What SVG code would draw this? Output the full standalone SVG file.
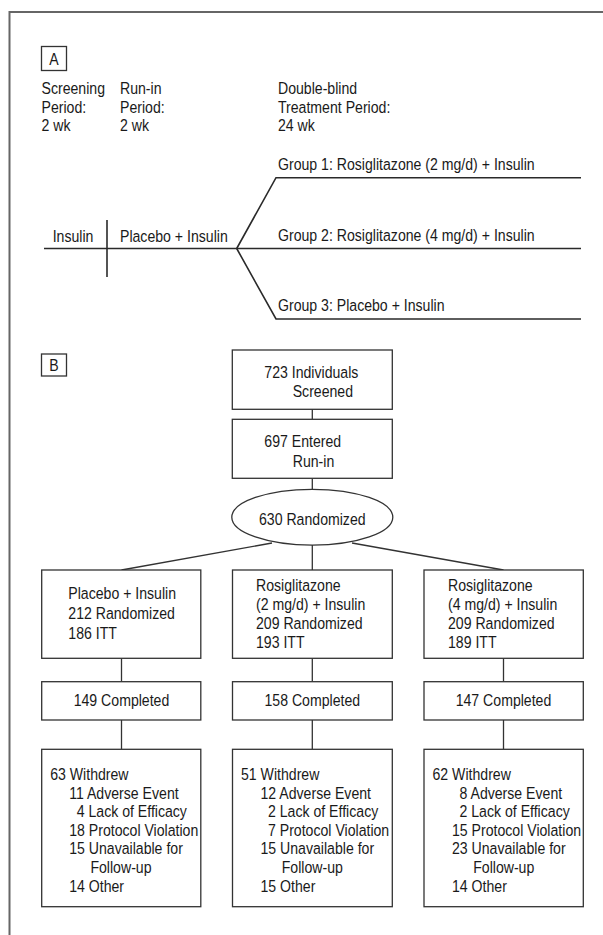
<svg xmlns="http://www.w3.org/2000/svg" width="603" height="935" viewBox="0 0 603 935">
<style>
text{font-family:"Liberation Sans Narrow","Liberation Sans",Arial,sans-serif;font-size:17px;fill:#1a1a1a;transform:scaleX(0.83);transform-box:fill-box;transform-origin:0 0}
text.c{text-anchor:middle;transform-origin:50% 0}
.box{fill:#fff;stroke:#333;stroke-width:1.3}
.ln{fill:none;stroke:#333;stroke-width:1.3}
.tl{fill:none;stroke:#2a2a2a;stroke-width:1.6}
.frame{fill:none;stroke:#666;stroke-width:2}
</style>
<rect x="0" y="0" width="603" height="935" fill="#fff"/>
<g id="frame"><path class="frame" d="M9.5 935 V12 H603"/></g>

<g id="panelA">
<g id="labelA"><rect class="box" x="41.5" y="46.5" width="25" height="24"/><text class="c" x="54" y="65">A</text></g>
<g id="screening"><text x="41.5" y="94.3">Screening</text><text x="41.5" y="112.8">Period:</text><text x="41.5" y="131.5">2 wk</text></g>
<g id="runin"><text x="120" y="94.3">Run-in</text><text x="120" y="112.8">Period:</text><text x="120" y="131.5">2 wk</text></g>
<g id="treatment"><text x="278" y="94.3">Double-blind</text><text x="278" y="112.8">Treatment Period:</text><text x="278" y="131.5">24 wk</text></g>
<g id="timeline">
<path class="tl" d="M44 248.5 H581"/>
<path class="tl" d="M107 220 V277"/>
<path class="tl" d="M236.7 248.5 L276 177.7 H581"/>
<path class="tl" d="M236.7 248.5 L276 319 H581"/>
</g>
<g id="phaseInsulin"><text x="52.7" y="241.7">Insulin</text></g>
<g id="phasePlacebo"><text x="120" y="241.7">Placebo + Insulin</text></g>
<g id="group1"><text x="278" y="170">Group 1: Rosiglitazone (2 mg/d) + Insulin</text></g>
<g id="group2"><text x="278" y="240.7">Group 2: Rosiglitazone (4 mg/d) + Insulin</text></g>
<g id="group3"><text x="278" y="311">Group 3: Placebo + Insulin</text></g>
</g>

<g id="connectors">
<path class="ln" d="M312.3 409 V419.5"/>
<path class="ln" d="M312.3 478.5 V495"/>
<path class="ln" d="M121.5 570 L272 543"/>
<path class="ln" d="M503.5 570 L352 543"/>
<path class="ln" d="M312.3 540 V570"/>
<path class="ln" d="M121.5 658.3 V681.7"/>
<path class="ln" d="M312.3 658.3 V681.7"/>
<path class="ln" d="M503.5 658.3 V681.7"/>
<path class="ln" d="M121.5 720 V749.3"/>
<path class="ln" d="M312.3 720 V749.3"/>
<path class="ln" d="M503.5 720 V749.3"/>
</g>

<g id="labelB"><rect class="box" x="41.5" y="354" width="25" height="22"/><text class="c" x="54" y="371">B</text></g>

<g id="screened"><rect class="box" x="232.3" y="350" width="160" height="59.3"/><text x="264.3" y="378.3">723 Individuals</text><text x="292.7" y="397.3">Screened</text></g>
<g id="runinBox"><rect class="box" x="232.3" y="419.3" width="160" height="59"/><text x="264.3" y="447.3">697 Entered</text><text x="292.7" y="466.7">Run-in</text></g>
<g id="randomized"><ellipse class="box" cx="312.3" cy="517.2" rx="80.5" ry="27.9"/><text class="c" x="312.3" y="525">630 Randomized</text></g>

<g id="arm1"><rect class="box" x="41.7" y="570" width="159.1" height="88.3"/><text x="68.3" y="599">Placebo + Insulin</text><text x="68.3" y="619.3">212 Randomized</text><text x="68.3" y="639.3">186 ITT</text></g>
<g id="arm2"><rect class="box" x="232.5" y="570" width="159.8" height="88.3"/><text x="256" y="591">Rosiglitazone</text><text x="256" y="610">(2 mg/d) + Insulin</text><text x="256" y="629">209 Randomized</text><text x="256" y="648">193 ITT</text></g>
<g id="arm3"><rect class="box" x="424" y="570" width="159.3" height="88.3"/><text x="448" y="591">Rosiglitazone</text><text x="448" y="610">(4 mg/d) + Insulin</text><text x="448" y="629">209 Randomized</text><text x="448" y="648">189 ITT</text></g>

<g id="completed1"><rect class="box" x="41.7" y="681.7" width="159.1" height="38.3"/><text class="c" x="121.5" y="706">149 Completed</text></g>
<g id="completed2"><rect class="box" x="232.5" y="681.7" width="159.8" height="38.3"/><text class="c" x="312.3" y="706">158 Completed</text></g>
<g id="completed3"><rect class="box" x="424" y="681.7" width="159.3" height="38.3"/><text class="c" x="503.5" y="706">147 Completed</text></g>

<g id="withdrew1"><rect class="box" x="41.7" y="749.3" width="159.1" height="157.4"/>
<text x="50.2" y="780">63 Withdrew</text>
<text x="69.2" y="799">11 Adverse Event</text>
<text x="76.7" y="817">4 Lack of Efficacy</text>
<text x="69.2" y="835.7">18 Protocol Violation</text>
<text x="69.2" y="854.3">15 Unavailable for</text>
<text x="90.4" y="872.7">Follow-up</text>
<text x="69.2" y="891.7">14 Other</text></g>
<g id="withdrew2"><rect class="box" x="232.5" y="749.3" width="159.8" height="157.4"/>
<text x="241" y="780">51 Withdrew</text>
<text x="260.5" y="799">12 Adverse Event</text>
<text x="268" y="817">2 Lack of Efficacy</text>
<text x="268" y="835.7">7 Protocol Violation</text>
<text x="260.5" y="854.3">15 Unavailable for</text>
<text x="281.7" y="872.7">Follow-up</text>
<text x="260.5" y="891.7">15 Other</text></g>
<g id="withdrew3"><rect class="box" x="424" y="749.3" width="159.3" height="157.4"/>
<text x="432.5" y="780">62 Withdrew</text>
<text x="459.5" y="799">8 Adverse Event</text>
<text x="459.5" y="817">2 Lack of Efficacy</text>
<text x="452" y="835.7">15 Protocol Violation</text>
<text x="452" y="854.3">23 Unavailable for</text>
<text x="473.2" y="872.7">Follow-up</text>
<text x="452" y="891.7">14 Other</text></g>
</svg>
